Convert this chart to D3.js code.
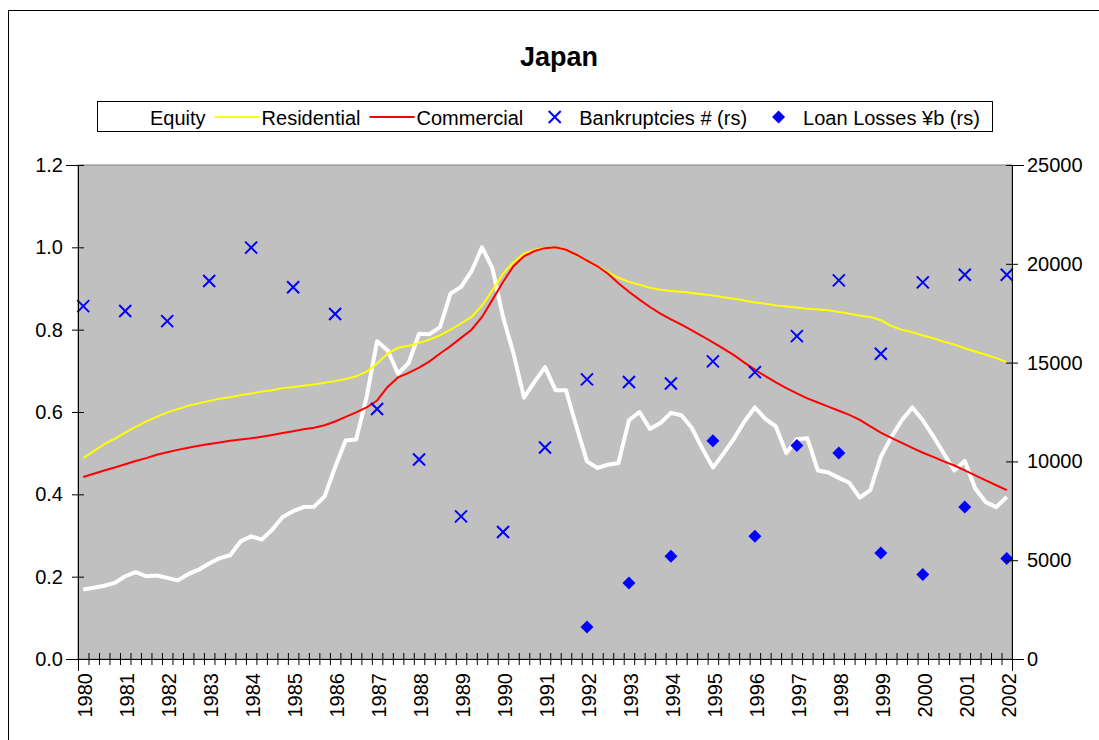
<html>
<head>
    <script type="text/javascript" src="https://cdnjs.cloudflare.com/ajax/libs/d3/7.8.5/d3.min.js"></script>
    <style>
        body { margin: 0; background: #fff; }
        text { font-family: "Liberation Sans", Arial, sans-serif; fill: #000; }
    </style>
</head>
<body>
<script type="text/javascript">

    // years on the category axis, data is quarterly from 1980Q1 to 2002Q1
    var years = [1980, 1981, 1982, 1983, 1984, 1985, 1986, 1987, 1988, 1989, 1990, 1991,
                 1992, 1993, 1994, 1995, 1996, 1997, 1998, 1999, 2000, 2001, 2002];

    var quarters = [];
    years.forEach(function(y) {
        [1, 2, 3, 4].forEach(function(q) {
            if (y < 2002 || q == 1) quarters.push(y + "Q" + q);
        });
    });

    // index values, peak = 1.0
    var equity = [0.169, 0.173, 0.178, 0.185, 0.201, 0.211, 0.201, 0.203, 0.197, 0.191, 0.206, 0.217,
                  0.232, 0.245, 0.252, 0.286, 0.298, 0.290, 0.314, 0.345, 0.359, 0.369, 0.370, 0.395,
                  0.466, 0.531, 0.533, 0.636, 0.772, 0.750, 0.693, 0.719, 0.790, 0.789, 0.806, 0.888,
                  0.904, 0.942, 1.000, 0.948, 0.831, 0.742, 0.635, 0.673, 0.709, 0.653, 0.653, 0.564,
                  0.480, 0.464, 0.472, 0.476, 0.580, 0.600, 0.559, 0.573, 0.598, 0.592, 0.561, 0.511,
                  0.465, 0.499, 0.535, 0.577, 0.611, 0.583, 0.565, 0.500, 0.534, 0.536, 0.458, 0.453,
                  0.440, 0.428, 0.392, 0.410, 0.491, 0.539, 0.580, 0.611, 0.580, 0.541, 0.499, 0.458,
                  0.481, 0.414, 0.381, 0.369, 0.394];

    var residential = [0.488, 0.505, 0.522, 0.535, 0.550, 0.564, 0.577, 0.588, 0.599, 0.607, 0.615, 0.621,
                       0.627, 0.632, 0.636, 0.641, 0.645, 0.650, 0.653, 0.658, 0.661, 0.664, 0.667, 0.671,
                       0.675, 0.680, 0.687, 0.698, 0.718, 0.742, 0.756, 0.761, 0.768, 0.776, 0.786, 0.800,
                       0.815, 0.831, 0.859, 0.896, 0.936, 0.964, 0.985, 0.994, 0.998, 1.000, 0.994, 0.981,
                       0.967, 0.954, 0.940, 0.926, 0.916, 0.909, 0.902, 0.897, 0.894, 0.892, 0.889, 0.886,
                       0.883, 0.879, 0.875, 0.871, 0.866, 0.863, 0.859, 0.856, 0.854, 0.851, 0.849, 0.847,
                       0.843, 0.839, 0.834, 0.831, 0.823, 0.809, 0.800, 0.794, 0.786, 0.779, 0.771, 0.764,
                       0.755, 0.747, 0.739, 0.731, 0.721];

    var commercial = [0.442, 0.450, 0.458, 0.465, 0.473, 0.481, 0.488, 0.496, 0.502, 0.508, 0.513, 0.518,
                      0.522, 0.526, 0.530, 0.533, 0.536, 0.540, 0.544, 0.549, 0.553, 0.558, 0.562, 0.568,
                      0.577, 0.588, 0.599, 0.611, 0.628, 0.661, 0.684, 0.695, 0.708, 0.723, 0.742, 0.760,
                      0.780, 0.800, 0.831, 0.873, 0.916, 0.954, 0.978, 0.991, 0.998, 1.000, 0.994, 0.982,
                      0.968, 0.954, 0.936, 0.913, 0.892, 0.873, 0.855, 0.839, 0.825, 0.812, 0.798, 0.784,
                      0.769, 0.754, 0.738, 0.720, 0.703, 0.687, 0.672, 0.658, 0.645, 0.633, 0.623, 0.613,
                      0.603, 0.593, 0.581, 0.565, 0.550, 0.537, 0.525, 0.513, 0.501, 0.491, 0.480, 0.470,
                      0.458, 0.446, 0.434, 0.422, 0.410];

    // annual, plotted at Q1 of each year (right scale)
    var bankruptcies = [17860, 17610, 17100, 19130, 20820, 18810, 17460, 12650, 10100, 7220, 6430, 10700,
                        14150, 14020, 13940, 15060, 14520, 16340, 19160, 15450, 19060, 19450, 19450];

    var lossYears = [1992, 1993, 1994, 1995, 1996, 1997, 1998, 1999, 2000, 2001, 2002];
    var loanLosses = [1620, 3850, 5200, 11040, 6210, 10810, 10420, 5360, 4270, 7690, 5080];

    var leftTicks = [0, 0.2, 0.4, 0.6, 0.8, 1.0, 1.2];
    var rightTicks = [0, 5000, 10000, 15000, 20000, 25000];

    var width = 1099, height = 740;
    var plot = {left: 78, right: 1012, top: 165, bottom: 659};

    var svg = d3.select("body").append("svg").attr("width", width).attr("height", height);

    // chart border (runs off the picture on the right and bottom)
    svg.append("rect")
        .attr("x", 8.5).attr("y", 10.5)
        .attr("width", 1200).attr("height", 800)
        .attr("fill", "#fff").attr("stroke", "#000");

    svg.append("text")
        .attr("x", 559).attr("y", 66)
        .attr("text-anchor", "middle")
        .style("font-size", "27px").style("font-weight", "bold")
        .text("Japan");

    var x = d3.scaleBand().domain(quarters).range([plot.left, plot.right]);
    var xEdge = d3.scaleLinear().domain([0, quarters.length]).range([plot.left, plot.right]);
    var yLeft = d3.scaleLinear().domain([0, 1.2]).range([plot.bottom, plot.top]);
    var yRight = d3.scaleLinear().domain([0, 25000]).range([plot.bottom, plot.top]);

    function cx(q) { return x(q) + x.bandwidth() / 2; }

    svg.append("rect")
        .attr("x", plot.left).attr("y", plot.top)
        .attr("width", plot.right - plot.left).attr("height", plot.bottom - plot.top)
        .attr("fill", "#c0c0c0").attr("stroke", "#808080");

    // lines
    function lineOf(vals) {
        return d3.line()
            .x(function(d, i) { return cx(quarters[i]); })
            .y(function(d) { return yLeft(d); })(vals);
    }

    svg.append("path").attr("d", lineOf(equity))
        .attr("fill", "none").attr("stroke", "#fff").attr("stroke-width", 4)
        .attr("stroke-linejoin", "round");
    svg.append("path").attr("d", lineOf(residential))
        .attr("fill", "none").attr("stroke", "#ffff00").attr("stroke-width", 2);
    svg.append("path").attr("d", lineOf(commercial))
        .attr("fill", "none").attr("stroke", "#ff0000").attr("stroke-width", 2);

    var crossPath = "M-6,-6L6,6M-6,6L6,-6";
    var diamondPath = "M0,-6.5L6.5,0L0,6.5L-6.5,0Z";

    svg.selectAll(".bk")
        .data(bankruptcies)
        .enter()
        .append("path")
        .attr("class", "bk")
        .attr("d", crossPath)
        .attr("transform", function(d, i) { return "translate(" + cx(years[i] + "Q1") + "," + yRight(d) + ")"; })
        .attr("stroke", "#0000ff").attr("stroke-width", 2).attr("fill", "none");

    svg.selectAll(".ll")
        .data(loanLosses)
        .enter()
        .append("path")
        .attr("class", "ll")
        .attr("d", diamondPath)
        .attr("transform", function(d, i) { return "translate(" + cx(lossYears[i] + "Q1") + "," + yRight(d) + ")"; })
        .attr("fill", "#0000ff");

    // axes, tick marks cross the axis line
    var gLeft = svg.append("g")
        .attr("transform", "translate(" + plot.left + ",0)")
        .call(d3.axisLeft(yLeft).tickValues(leftTicks).tickSize(12).tickPadding(3).tickFormat(d3.format(".1f")));
    gLeft.selectAll(".tick line").attr("x1", 6).attr("x2", -6);

    var gRight = svg.append("g")
        .attr("transform", "translate(" + plot.right + ",0)")
        .call(d3.axisRight(yRight).tickValues(rightTicks).tickSize(12).tickPadding(3).tickFormat(d3.format("d")));
    gRight.selectAll(".tick line").attr("x1", -6).attr("x2", 6);

    var gBottom = svg.append("g")
        .attr("transform", "translate(0," + plot.bottom + ")")
        .call(d3.axisBottom(xEdge).tickValues(d3.range(quarters.length + 1)).tickSize(12).tickFormat(""));
    gBottom.selectAll(".tick line").attr("y1", -6).attr("y2", 6);

    var gLabels = svg.append("g")
        .attr("transform", "translate(0," + plot.bottom + ")")
        .call(d3.axisBottom(x).tickValues(quarters.filter(function(q) { return q.slice(4) == "Q1"; }))
            .tickSize(0).tickFormat(function(q) { return q.slice(0, 4); }));
    gLabels.select(".domain").remove();
    gLabels.selectAll("text")
        .attr("transform", "rotate(-90)")
        .attr("x", -14).attr("y", 0).attr("dy", "0.45em")
        .attr("text-anchor", "end");

    svg.selectAll(".domain").attr("stroke", "#000");
    svg.selectAll(".tick line").attr("stroke", "#000");
    svg.selectAll(".tick text").style("font-size", "20px").style("font-family", "'Liberation Sans', Arial, sans-serif").attr("fill", "#000");

    // legend
    var legendNames = ["Equity", "Residential", "Commercial", "Bankruptcies # (rs)", "Loan Losses \u00a5b (rs)"];
    var legendKinds = ["#fff", "#ffff00", "#ff0000", "cross", "diamond"];

    var legend = svg.append("g");
    legend.append("rect")
        .attr("x", 97.5).attr("y", 101.5)
        .attr("width", 895).attr("height", 30)
        .attr("fill", "#fff").attr("stroke", "#000");

    var lx = 103;
    legendNames.forEach(function(name, i) {
        var kind = legendKinds[i];
        if (kind == "cross") {
            legend.append("path").attr("d", crossPath)
                .attr("transform", "translate(" + (lx + 22.5) + ",117)")
                .attr("stroke", "#0000ff").attr("stroke-width", 2).attr("fill", "none");
        } else if (kind == "diamond") {
            legend.append("path").attr("d", diamondPath)
                .attr("transform", "translate(" + (lx + 22.5) + ",117)")
                .attr("fill", "#0000ff");
        } else {
            legend.append("line")
                .attr("x1", lx).attr("x2", lx + 45).attr("y1", 117).attr("y2", 117)
                .attr("stroke", kind).attr("stroke-width", 2);
        }
        var t = legend.append("text")
            .attr("x", lx + 47).attr("y", 124.5)
            .style("font-size", "20px")
            .text(name);
        lx = lx + 47 + t.node().getComputedTextLength() + 9;
    });

</script>
</body>
</html>
